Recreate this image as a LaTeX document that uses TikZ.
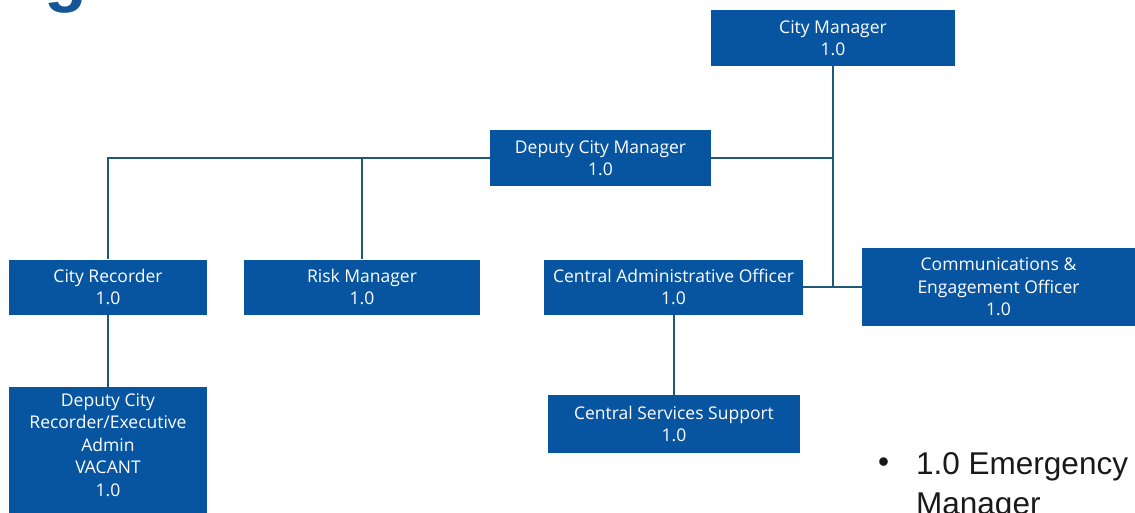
\documentclass[tikz,border=0pt]{standalone}
\usepackage{fontspec}
\setmainfont{Open Sans}
\newfontfamily\arialfont{Liberation Sans}
\definecolor{boxblue}{RGB}{7,84,161}
\definecolor{linecol}{RGB}{30,90,118}
\definecolor{titleblue}{RGB}{20,86,150}
\begin{document}
\begin{tikzpicture}[x=1pt,y=-1pt,
  orgbox/.style={fill=boxblue, draw=none, text=white, inner sep=0pt, align=center,
    font=\fontsize{17.5}{22.5}\selectfont},
  conn/.style={draw=linecol, line width=2pt},
  bigtext/.style={anchor=base west, inner sep=0pt, font=\arialfont\fontsize{31.5}{38}\selectfont, text=black!90}]
\useasboundingbox (0,0) rectangle (1135,512);
% title fragment
\node[anchor=base west, text=titleblue, inner sep=0pt, font=\arialfont\bfseries\fontsize{70}{70}\selectfont] (title) at (44,-2) {g};
% connector joints
\coordinate (j1) at (833,158);
\coordinate (j2) at (833,287);
\coordinate (l1) at (108,158);
\coordinate (l2) at (362,158);
% boxes
\node[orgbox, minimum width=244, minimum height=56] (cm) at (833,38) {City Manager\\1.0};
\node[orgbox, minimum width=221, minimum height=56] (dcm) at (600.5,158) {Deputy City Manager\\1.0};
\node[orgbox, minimum width=198, minimum height=55] (cr) at (108,287) {City Recorder\\1.0};
\node[orgbox, minimum width=236, minimum height=55] (rm) at (362,287) {Risk Manager\\1.0};
\node[orgbox, minimum width=259, minimum height=55] (cao) at (673.5,287) {Central Administrative Officer\\1.0};
\node[orgbox, minimum width=273, minimum height=78] (ceo) at (998.5,287) {Communications \&\\Engagement Officer\\1.0};
\node[orgbox, minimum width=198, minimum height=135, anchor=north] (dcr) at (108,387) {};
\node[orgbox, anchor=north] (dcrt) at (108,393) {Deputy City\\Recorder/Executive\\Admin\\VACANT\\1.0};
\node[orgbox, minimum width=252, minimum height=58] (css) at (674,424) {Central Services Support\\1.0};
% connectors
\draw[conn] (cm.south) -- (j2);
\draw[conn] (dcm.east) -- (j1);
\draw[conn] (cao.east) -- (ceo.west);
\draw[conn] (dcm.west) -- (l1) -- (cr.north);
\draw[conn] (l2) -- (rm.north);
\draw[conn] (cr.south) -- (dcr.north);
\draw[conn] (cao.south -| css.north) -- (css.north);
% bullet text
\node[bigtext] (bul) at (878,472) {\textbullet};
\node[bigtext] (em1) at (916,474) {1.0 Emergency};
\node[bigtext] (em2) at (916,514) {Manager};
\end{tikzpicture}
\end{document}
